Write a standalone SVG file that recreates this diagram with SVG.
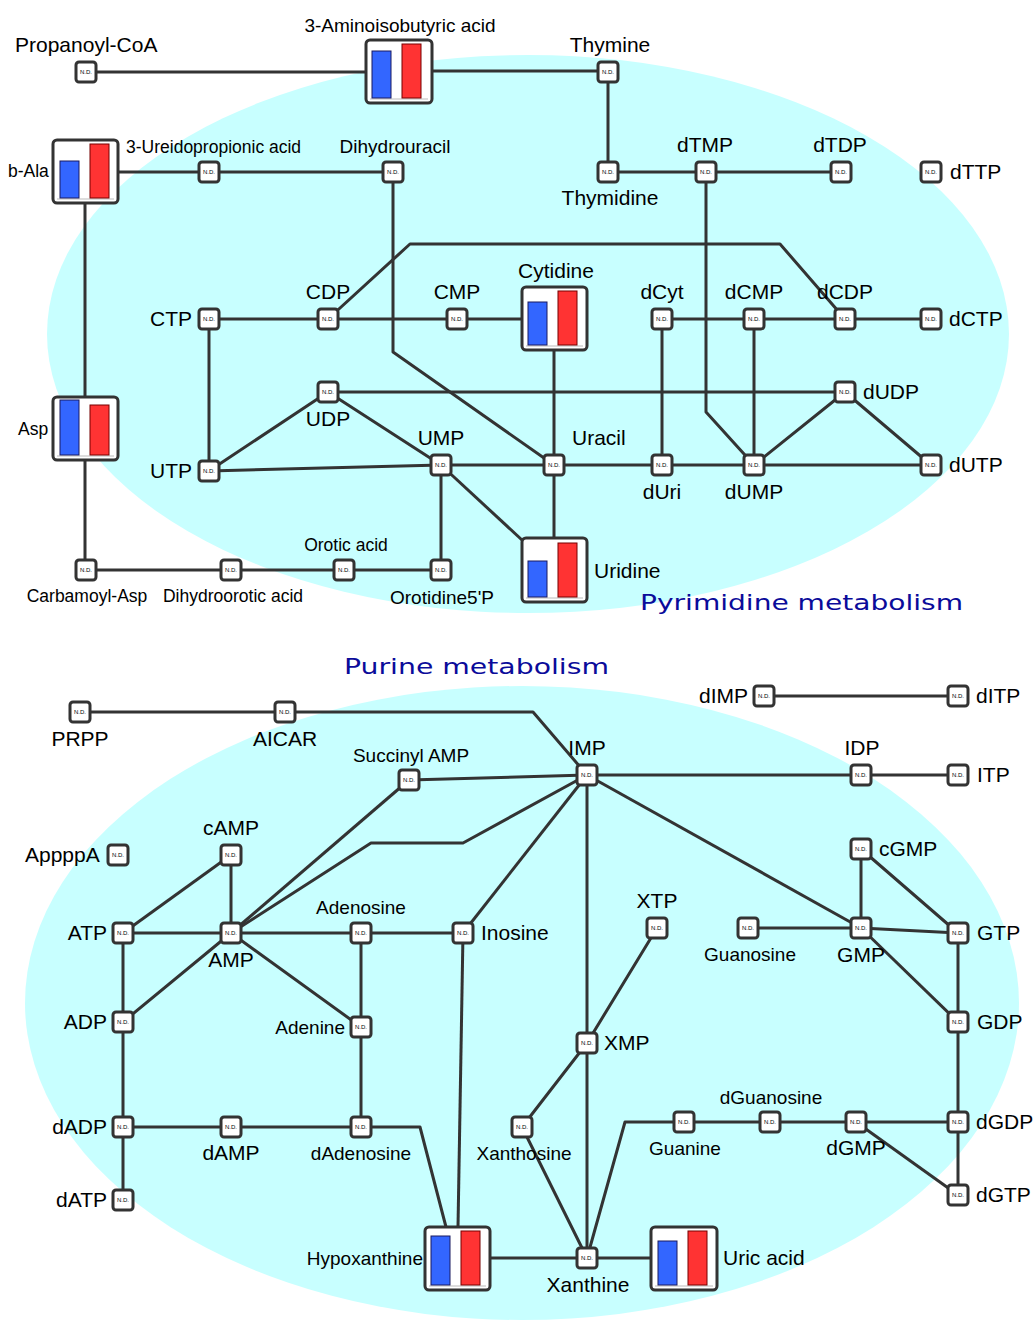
<svg xmlns="http://www.w3.org/2000/svg" width="1035" height="1320" viewBox="0 0 1035 1320">
<style>
text{font-family:"Liberation Sans",Arial,sans-serif;fill:#000}
.lg{font-size:21px}
.md{font-size:19px}
.sm{font-size:17.5px}
.nd{font-size:6px;text-anchor:middle}
.m{text-anchor:middle}
.e{text-anchor:end}
.n rect{fill:#fff;stroke:#333;stroke-width:3}
.fr{fill:#fff;stroke:#333;stroke-width:3}
.bl{fill:#3366ff;stroke:#1a1a60;stroke-width:1}
.rd{fill:#ff3333;stroke:#700;stroke-width:1}
.base{stroke:#bbb;stroke-width:1}
#edges path{fill:none;stroke:#333;stroke-width:3;stroke-linejoin:round}
.title{font-family:"DejaVu Sans",sans-serif;fill:#0b0b9a;font-size:22px}
</style>
<ellipse cx="528" cy="334" rx="481" ry="279" fill="#c8ffff"/>
<ellipse cx="522" cy="1003" rx="497" ry="317" fill="#c8ffff"/>
<g id="edges">
<path d="M86,72H366"/>
<path d="M432,71H608V172"/>
<path d="M608,172H841"/>
<path d="M118,172H393V352L554,465"/>
<path d="M85,203V397"/>
<path d="M85,460V570H441V465"/>
<path d="M209,319H522"/>
<path d="M209,319V471"/>
<path d="M328,319L410,244H780L845,319"/>
<path d="M554,350V538"/>
<path d="M441,465L522,540"/>
<path d="M209,471L441,465"/>
<path d="M209,471L328,392L441,465"/>
<path d="M328,392H845"/>
<path d="M441,465H931"/>
<path d="M662,319H931"/>
<path d="M662,319V465"/>
<path d="M754,319V465"/>
<path d="M706,172V412L754,465"/>
<path d="M754,465L845,392L931,465"/>
<path d="M80,712H533L587,775"/>
<path d="M764,696H958"/>
<path d="M587,775H958"/>
<path d="M409,780L587,775"/>
<path d="M409,780L231,933"/>
<path d="M231,933L371,843H463L587,775"/>
<path d="M587,775L463,933"/>
<path d="M587,775V1258"/>
<path d="M587,775L861,928"/>
<path d="M231,855L123,933"/>
<path d="M231,855V933"/>
<path d="M123,933H463"/>
<path d="M123,933V1200"/>
<path d="M123,1022L231,933L361,1027"/>
<path d="M361,933V1127"/>
<path d="M123,1127H420L446,1227"/>
<path d="M463,933L458,1227"/>
<path d="M490,1258H651"/>
<path d="M657,928L587,1043L522,1127L587,1258"/>
<path d="M748,928H861"/>
<path d="M861,849V928L958,933"/>
<path d="M861,849L958,933V1195"/>
<path d="M861,928L958,1022"/>
<path d="M587,1258L625,1122H958"/>
<path d="M856,1122L958,1195"/>
</g>
<g id="n-propanoylcoa" class="n"><rect x="76" y="62" width="20" height="20" rx="3"/><text class="nd" x="86" y="74">N.D.</text><text class="lg" x="15" y="52">Propanoyl-CoA</text></g>
<g id="n-aminoiso"><rect class="fr" x="366" y="40" width="66" height="63" rx="4"/><line class="base" x1="370" y1="99" x2="428" y2="99"/><rect class="bl" x="372" y="51" width="19" height="47"/><rect class="rd" x="402" y="44" width="19" height="54"/><text class="md m" x="400" y="32">3-Aminoisobutyric acid</text></g>
<g id="n-thymine" class="n"><rect x="598" y="62" width="20" height="20" rx="3"/><text class="nd" x="608" y="74">N.D.</text><text class="lg m" x="610" y="52">Thymine</text></g>
<g id="n-thymidine" class="n"><rect x="598" y="162" width="20" height="20" rx="3"/><text class="nd" x="608" y="174">N.D.</text><text class="lg m" x="610" y="205">Thymidine</text></g>
<g id="n-dtmp" class="n"><rect x="696" y="162" width="20" height="20" rx="3"/><text class="nd" x="706" y="174">N.D.</text><text class="lg m" x="705" y="152">dTMP</text></g>
<g id="n-dtdp" class="n"><rect x="831" y="162" width="20" height="20" rx="3"/><text class="nd" x="841" y="174">N.D.</text><text class="lg m" x="840" y="152">dTDP</text></g>
<g id="n-dttp" class="n"><rect x="921" y="162" width="20" height="20" rx="3"/><text class="nd" x="931" y="174">N.D.</text><text class="lg" x="950" y="179">dTTP</text></g>
<g id="n-bala"><rect class="fr" x="53" y="140" width="65" height="63" rx="4"/><line class="base" x1="57" y1="199" x2="114" y2="199"/><rect class="bl" x="60" y="161" width="19" height="37"/><rect class="rd" x="90" y="144" width="19" height="54"/><text class="sm" x="8" y="177">b-Ala</text></g>
<g id="n-ureido" class="n"><rect x="199" y="162" width="20" height="20" rx="3"/><text class="nd" x="209" y="174">N.D.</text><text class="sm" x="126" y="153">3-Ureidopropionic acid</text></g>
<g id="n-dihydrouracil" class="n"><rect x="383" y="162" width="20" height="20" rx="3"/><text class="nd" x="393" y="174">N.D.</text><text class="md m" x="395" y="153">Dihydrouracil</text></g>
<g id="n-ctp" class="n"><rect x="199" y="309" width="20" height="20" rx="3"/><text class="nd" x="209" y="321">N.D.</text><text class="lg e" x="192" y="326">CTP</text></g>
<g id="n-cdp" class="n"><rect x="318" y="309" width="20" height="20" rx="3"/><text class="nd" x="328" y="321">N.D.</text><text class="lg m" x="328" y="299">CDP</text></g>
<g id="n-cmp" class="n"><rect x="447" y="309" width="20" height="20" rx="3"/><text class="nd" x="457" y="321">N.D.</text><text class="lg m" x="457" y="299">CMP</text></g>
<g id="n-cytidine"><rect class="fr" x="522" y="287" width="65" height="63" rx="4"/><line class="base" x1="526" y1="346" x2="583" y2="346"/><rect class="bl" x="528" y="302" width="19" height="43"/><rect class="rd" x="558" y="291" width="19" height="54"/><text class="lg m" x="556" y="278">Cytidine</text></g>
<g id="n-dcyt" class="n"><rect x="652" y="309" width="20" height="20" rx="3"/><text class="nd" x="662" y="321">N.D.</text><text class="lg m" x="662" y="299">dCyt</text></g>
<g id="n-dcmp" class="n"><rect x="744" y="309" width="20" height="20" rx="3"/><text class="nd" x="754" y="321">N.D.</text><text class="lg m" x="754" y="299">dCMP</text></g>
<g id="n-dcdp" class="n"><rect x="835" y="309" width="20" height="20" rx="3"/><text class="nd" x="845" y="321">N.D.</text><text class="lg m" x="845" y="299">dCDP</text></g>
<g id="n-dctp" class="n"><rect x="921" y="309" width="20" height="20" rx="3"/><text class="nd" x="931" y="321">N.D.</text><text class="lg" x="949" y="326">dCTP</text></g>
<g id="n-udp" class="n"><rect x="318" y="382" width="20" height="20" rx="3"/><text class="nd" x="328" y="394">N.D.</text><text class="lg m" x="328" y="426">UDP</text></g>
<g id="n-dudp" class="n"><rect x="835" y="382" width="20" height="20" rx="3"/><text class="nd" x="845" y="394">N.D.</text><text class="lg" x="863" y="399">dUDP</text></g>
<g id="n-asp"><rect class="fr" x="53" y="397" width="65" height="63" rx="4"/><line class="base" x1="57" y1="456" x2="114" y2="456"/><rect class="bl" x="60" y="400" width="19" height="55"/><rect class="rd" x="90" y="405" width="19" height="50"/><text class="sm" x="18" y="435">Asp</text></g>
<g id="n-utp" class="n"><rect x="199" y="461" width="20" height="20" rx="3"/><text class="nd" x="209" y="473">N.D.</text><text class="lg e" x="192" y="478">UTP</text></g>
<g id="n-ump" class="n"><rect x="431" y="455" width="20" height="20" rx="3"/><text class="nd" x="441" y="467">N.D.</text><text class="lg m" x="441" y="445">UMP</text></g>
<g id="n-uracil" class="n"><rect x="544" y="455" width="20" height="20" rx="3"/><text class="nd" x="554" y="467">N.D.</text><text class="lg" x="572" y="445">Uracil</text></g>
<g id="n-duri" class="n"><rect x="652" y="455" width="20" height="20" rx="3"/><text class="nd" x="662" y="467">N.D.</text><text class="lg m" x="662" y="499">dUri</text></g>
<g id="n-dump" class="n"><rect x="744" y="455" width="20" height="20" rx="3"/><text class="nd" x="754" y="467">N.D.</text><text class="lg m" x="754" y="499">dUMP</text></g>
<g id="n-dutp" class="n"><rect x="921" y="455" width="20" height="20" rx="3"/><text class="nd" x="931" y="467">N.D.</text><text class="lg" x="949" y="472">dUTP</text></g>
<g id="n-uridine"><rect class="fr" x="522" y="538" width="65" height="64" rx="4"/><line class="base" x1="526" y1="598" x2="583" y2="598"/><rect class="bl" x="528" y="561" width="19" height="36"/><rect class="rd" x="558" y="543" width="19" height="54"/><text class="lg" x="594" y="578">Uridine</text></g>
<g id="n-carbamoylasp" class="n"><rect x="76" y="560" width="20" height="20" rx="3"/><text class="nd" x="86" y="572">N.D.</text><text class="sm m" x="87" y="602">Carbamoyl-Asp</text></g>
<g id="n-dihydroorotic" class="n"><rect x="221" y="560" width="20" height="20" rx="3"/><text class="nd" x="231" y="572">N.D.</text><text class="sm m" x="233" y="602">Dihydroorotic acid</text></g>
<g id="n-orotic" class="n"><rect x="334" y="560" width="20" height="20" rx="3"/><text class="nd" x="344" y="572">N.D.</text><text class="sm m" x="346" y="551">Orotic acid</text></g>
<g id="n-orotidine" class="n"><rect x="431" y="560" width="20" height="20" rx="3"/><text class="nd" x="441" y="572">N.D.</text><text class="md m" x="442" y="604">Orotidine5'P</text></g>
<text class="title" x="640" y="610" textLength="323" lengthAdjust="spacingAndGlyphs">Pyrimidine metabolism</text>
<text class="title" x="344" y="674" textLength="265" lengthAdjust="spacingAndGlyphs">Purine metabolism</text>
<g id="n-prpp" class="n"><rect x="70" y="702" width="20" height="20" rx="3"/><text class="nd" x="80" y="714">N.D.</text><text class="lg m" x="80" y="746">PRPP</text></g>
<g id="n-aicar" class="n"><rect x="275" y="702" width="20" height="20" rx="3"/><text class="nd" x="285" y="714">N.D.</text><text class="lg m" x="285" y="746">AICAR</text></g>
<g id="n-dimp" class="n"><rect x="754" y="686" width="20" height="20" rx="3"/><text class="nd" x="764" y="698">N.D.</text><text class="lg e" x="748" y="703">dIMP</text></g>
<g id="n-ditp" class="n"><rect x="948" y="686" width="20" height="20" rx="3"/><text class="nd" x="958" y="698">N.D.</text><text class="lg" x="976" y="703">dITP</text></g>
<g id="n-imp" class="n"><rect x="577" y="765" width="20" height="20" rx="3"/><text class="nd" x="587" y="777">N.D.</text><text class="lg m" x="587" y="755">IMP</text></g>
<g id="n-idp" class="n"><rect x="851" y="765" width="20" height="20" rx="3"/><text class="nd" x="861" y="777">N.D.</text><text class="lg m" x="862" y="755">IDP</text></g>
<g id="n-itp" class="n"><rect x="948" y="765" width="20" height="20" rx="3"/><text class="nd" x="958" y="777">N.D.</text><text class="lg" x="977" y="782">ITP</text></g>
<g id="n-succinylamp" class="n"><rect x="399" y="770" width="20" height="20" rx="3"/><text class="nd" x="409" y="782">N.D.</text><text class="md m" x="411" y="762">Succinyl AMP</text></g>
<g id="n-appppa" class="n"><rect x="108" y="845" width="20" height="20" rx="3"/><text class="nd" x="118" y="857">N.D.</text><text class="lg" x="25" y="862">AppppA</text></g>
<g id="n-camp" class="n"><rect x="221" y="845" width="20" height="20" rx="3"/><text class="nd" x="231" y="857">N.D.</text><text class="lg m" x="231" y="835">cAMP</text></g>
<g id="n-atp" class="n"><rect x="113" y="923" width="20" height="20" rx="3"/><text class="nd" x="123" y="935">N.D.</text><text class="lg e" x="107" y="940">ATP</text></g>
<g id="n-amp" class="n"><rect x="221" y="923" width="20" height="20" rx="3"/><text class="nd" x="231" y="935">N.D.</text><text class="lg m" x="231" y="967">AMP</text></g>
<g id="n-adenosine" class="n"><rect x="351" y="923" width="20" height="20" rx="3"/><text class="nd" x="361" y="935">N.D.</text><text class="md m" x="361" y="914">Adenosine</text></g>
<g id="n-inosine" class="n"><rect x="453" y="923" width="20" height="20" rx="3"/><text class="nd" x="463" y="935">N.D.</text><text class="lg" x="481" y="940">Inosine</text></g>
<g id="n-adp" class="n"><rect x="113" y="1012" width="20" height="20" rx="3"/><text class="nd" x="123" y="1024">N.D.</text><text class="lg e" x="107" y="1029">ADP</text></g>
<g id="n-adenine" class="n"><rect x="351" y="1017" width="20" height="20" rx="3"/><text class="nd" x="361" y="1029">N.D.</text><text class="md e" x="345" y="1034">Adenine</text></g>
<g id="n-dadp" class="n"><rect x="113" y="1117" width="20" height="20" rx="3"/><text class="nd" x="123" y="1129">N.D.</text><text class="lg e" x="107" y="1134">dADP</text></g>
<g id="n-damp" class="n"><rect x="221" y="1117" width="20" height="20" rx="3"/><text class="nd" x="231" y="1129">N.D.</text><text class="lg m" x="231" y="1160">dAMP</text></g>
<g id="n-dadenosine" class="n"><rect x="351" y="1117" width="20" height="20" rx="3"/><text class="nd" x="361" y="1129">N.D.</text><text class="md m" x="361" y="1160">dAdenosine</text></g>
<g id="n-datp" class="n"><rect x="113" y="1190" width="20" height="20" rx="3"/><text class="nd" x="123" y="1202">N.D.</text><text class="lg e" x="107" y="1207">dATP</text></g>
<g id="n-hypoxanthine"><rect class="fr" x="425" y="1227" width="65" height="63" rx="4"/><line class="base" x1="429" y1="1286" x2="486" y2="1286"/><rect class="bl" x="431" y="1236" width="19" height="49"/><rect class="rd" x="461" y="1231" width="19" height="54"/><text class="md e" x="423" y="1265">Hypoxanthine</text></g>
<g id="n-xanthine" class="n"><rect x="577" y="1248" width="20" height="20" rx="3"/><text class="nd" x="587" y="1260">N.D.</text><text class="lg m" x="588" y="1292">Xanthine</text></g>
<g id="n-uricacid"><rect class="fr" x="651" y="1227" width="66" height="63" rx="4"/><line class="base" x1="655" y1="1286" x2="713" y2="1286"/><rect class="bl" x="658" y="1241" width="19" height="44"/><rect class="rd" x="688" y="1231" width="19" height="54"/><text class="lg" x="723" y="1265">Uric acid</text></g>
<g id="n-xtp" class="n"><rect x="647" y="918" width="20" height="20" rx="3"/><text class="nd" x="657" y="930">N.D.</text><text class="lg m" x="657" y="908">XTP</text></g>
<g id="n-xmp" class="n"><rect x="577" y="1033" width="20" height="20" rx="3"/><text class="nd" x="587" y="1045">N.D.</text><text class="lg" x="604" y="1050">XMP</text></g>
<g id="n-xanthosine" class="n"><rect x="512" y="1117" width="20" height="20" rx="3"/><text class="nd" x="522" y="1129">N.D.</text><text class="md m" x="524" y="1160">Xanthosine</text></g>
<g id="n-guanosine" class="n"><rect x="738" y="918" width="20" height="20" rx="3"/><text class="nd" x="748" y="930">N.D.</text><text class="md m" x="750" y="961">Guanosine</text></g>
<g id="n-cgmp" class="n"><rect x="851" y="839" width="20" height="20" rx="3"/><text class="nd" x="861" y="851">N.D.</text><text class="lg" x="879" y="856">cGMP</text></g>
<g id="n-gmp" class="n"><rect x="851" y="918" width="20" height="20" rx="3"/><text class="nd" x="861" y="930">N.D.</text><text class="lg m" x="861" y="962">GMP</text></g>
<g id="n-gtp" class="n"><rect x="948" y="923" width="20" height="20" rx="3"/><text class="nd" x="958" y="935">N.D.</text><text class="lg" x="977" y="940">GTP</text></g>
<g id="n-gdp" class="n"><rect x="948" y="1012" width="20" height="20" rx="3"/><text class="nd" x="958" y="1024">N.D.</text><text class="lg" x="977" y="1029">GDP</text></g>
<g id="n-dgdp" class="n"><rect x="948" y="1112" width="20" height="20" rx="3"/><text class="nd" x="958" y="1124">N.D.</text><text class="lg" x="976" y="1129">dGDP</text></g>
<g id="n-dgtp" class="n"><rect x="948" y="1185" width="20" height="20" rx="3"/><text class="nd" x="958" y="1197">N.D.</text><text class="lg" x="976" y="1202">dGTP</text></g>
<g id="n-guanine" class="n"><rect x="674" y="1112" width="20" height="20" rx="3"/><text class="nd" x="684" y="1124">N.D.</text><text class="md m" x="685" y="1155">Guanine</text></g>
<g id="n-dguanosine" class="n"><rect x="760" y="1112" width="20" height="20" rx="3"/><text class="nd" x="770" y="1124">N.D.</text><text class="md m" x="771" y="1104">dGuanosine</text></g>
<g id="n-dgmp" class="n"><rect x="846" y="1112" width="20" height="20" rx="3"/><text class="nd" x="856" y="1124">N.D.</text><text class="lg m" x="856" y="1155">dGMP</text></g>
</svg>
